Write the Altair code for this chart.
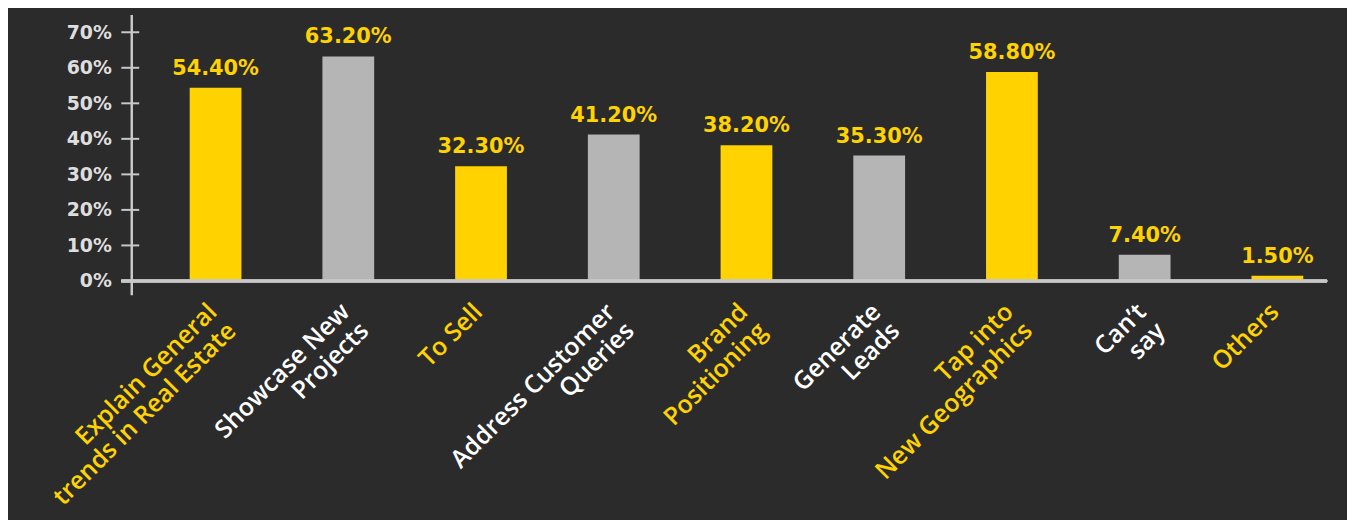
import altair as alt
import pandas as pd

categories = [
    "Explain General\ntrends in Real Estate",
    "Showcase New\nProjects",
    "To Sell",
    "Address Customer\nQueries",
    "Brand\nPositioning",
    "Generate\nLeads",
    "Tap into\nNew Geographics",
    "Can\u2019t\nsay",
    "Others",
]
values = [54.4, 63.2, 32.3, 41.2, 38.2, 35.3, 58.8, 7.4, 1.5]
value_labels = ["54.40%", "63.20%", "32.30%", "41.20%", "38.20%", "35.30%", "58.80%", "7.40%", "1.50%"]
kinds = ["yellow", "gray", "yellow", "gray", "yellow", "gray", "yellow", "gray", "yellow"]
y_ticks = [0, 10, 20, 30, 40, 50, 60, 70]

YELLOW = "#FFD200"
GRAY = "#B5B5B5"
AXIS = "#C8C8C8"
BG = "#2B2B2B"

df = pd.DataFrame({
    "key": [str(i) for i in range(len(categories))],
    "cat": categories,
    "val": values,
    "lab": value_labels,
    "kind": kinds,
})
ticks_df = pd.DataFrame({"t": y_ticks})

x_enc = alt.X("key:N", sort=None, axis=None,
              scale=alt.Scale(paddingInner=0.61, paddingOuter=0.31, align=0.71))
y_scale = alt.Scale(domain=[-3.9, 75], nice=False, zero=False)

bars = alt.Chart(df).mark_bar().encode(
    x=x_enc,
    y=alt.Y("val:Q", scale=y_scale,
            axis=alt.Axis(values=y_ticks, labelExpr="datum.value + '%'", grid=False,
                          domainColor=AXIS, domainWidth=2.5, ticks=False, tickSize=0,
                          labelPadding=20, labelFont="DejaVu Sans", labelFontSize=19,
                          labelFontWeight="bold", labelColor="#DEDEDE", title=None)),
    y2=alt.datum(0),
    color=alt.Color("kind:N", scale=alt.Scale(domain=["yellow", "gray"], range=[YELLOW, GRAY]),
                    legend=None),
)

xrule = alt.Chart(df).mark_rule(color=AXIS, strokeWidth=2.5).encode(
    x=alt.value(-10), x2=alt.value(1203), y=alt.datum(0)
)

tick_rules = alt.Chart(ticks_df).mark_rule(color=AXIS, strokeWidth=2).encode(
    y=alt.Y("t:Q", scale=y_scale), x=alt.value(-10), x2=alt.value(8)
)

value_text = alt.Chart(df).mark_text(
    font="DejaVu Sans", fontSize=21, fontWeight="bold", color=YELLOW,
    baseline="alphabetic", dy=-13
).encode(x=x_enc, y=alt.Y("val:Q", scale=y_scale), text="lab:N")

cat_text = alt.Chart(df).mark_text(
    font="Open Sans", fontSize=25, fontWeight=600, angle=315, align="right", baseline="top",
    lineBreak="\n", lineHeight=27, dy=-16
).encode(
    x=x_enc,
    y=alt.value(298),
    text="cat:N",
    color=alt.condition(alt.datum.kind == "yellow", alt.value(YELLOW), alt.value("#FFFFFF")),
)

chart = alt.layer(bars, xrule, tick_rules, value_text, cat_text).properties(
    width=1203, height=282,
    background=BG,
    autosize=alt.AutoSizeParams(type="none"),
    padding={"left": 124, "top": 5, "right": 20, "bottom": 225},
).configure_view(stroke=None)

chart.save("out.html", embed_options={"renderer": "svg", "actions": False})
